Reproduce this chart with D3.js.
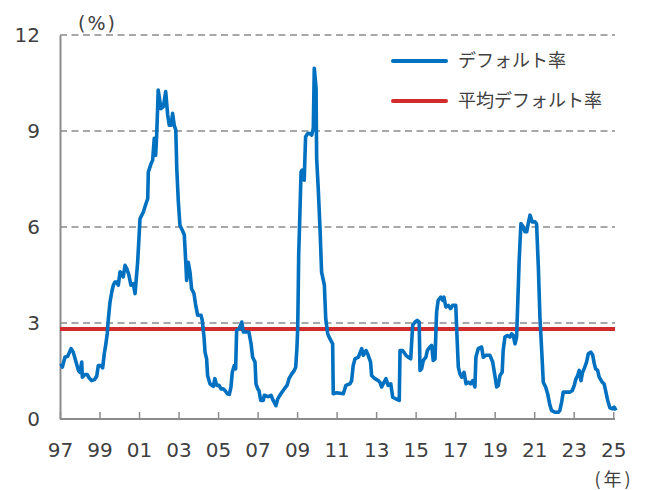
<!DOCTYPE html>
<html>
<head>
<meta charset="utf-8">
<script src="https://cdn.jsdelivr.net/npm/d3@7/dist/d3.min.js"></script>
<style>
  html, body { margin: 0; padding: 0; background: #fff; }
  svg text { font-family: "DejaVu Sans", Verdana, sans-serif; fill: #404040; }
  svg text.jp { font-family: "Noto Sans CJK JP", "Noto Sans", sans-serif; }
</style>
</head>
<body>
<svg id="chart" width="649" height="490"></svg>
<script>
// decimal year positions
const years = [
  1997.05, 1997.12, 1997.25, 1997.39, 1997.56, 1997.67, 1997.79, 1997.93, 1998.01, 1998.10,
  1998.13, 1998.27, 1998.38, 1998.48, 1998.60, 1998.74, 1998.86, 1998.94, 1999.07, 1999.16,
  1999.24, 1999.31, 1999.39, 1999.44, 1999.53, 1999.62, 1999.70, 1999.78, 1999.87, 1999.95,
  2000.04, 2000.12, 2000.20, 2000.29, 2000.38, 2000.49, 2000.59, 2000.71, 2000.80, 2000.93,
  2001.05, 2001.22, 2001.30, 2001.44, 2001.47, 2001.61, 2001.69, 2001.77, 2001.84, 2001.89,
  2001.94, 2001.97, 2002.11, 2002.23, 2002.35, 2002.45, 2002.53, 2002.62, 2002.70, 2002.78,
  2002.86, 2002.91, 2002.99, 2003.07, 2003.19, 2003.29, 2003.36, 2003.41, 2003.49, 2003.58,
  2003.66, 2003.78, 2003.87, 2003.97, 2004.14, 2004.20, 2004.29, 2004.34, 2004.42, 2004.47,
  2004.59, 2004.76, 2004.84, 2004.93, 2005.05, 2005.15, 2005.26, 2005.35, 2005.47, 2005.57,
  2005.65, 2005.72, 2005.82, 2005.89, 2005.94, 2006.07, 2006.20, 2006.28, 2006.56, 2006.67,
  2006.75, 2006.87, 2006.92, 2007.01, 2007.07, 2007.16, 2007.29, 2007.34, 2007.54, 2007.68,
  2007.79, 2007.93, 2008.02, 2008.18, 2008.35, 2008.49, 2008.59, 2008.73, 2008.86, 2008.93,
  2008.99, 2009.03, 2009.06, 2009.08, 2009.13, 2009.20, 2009.26, 2009.36, 2009.43, 2009.54,
  2009.65, 2009.74, 2009.82, 2009.87, 2009.96, 2009.99, 2010.07, 2010.16, 2010.24, 2010.38,
  2010.45, 2010.55, 2010.66, 2010.80, 2010.83, 2011.00, 2011.34, 2011.47, 2011.68, 2011.76,
  2011.84, 2011.93, 2012.10, 2012.27, 2012.35, 2012.49, 2012.60, 2012.72, 2012.77, 2012.94,
  2013.11, 2013.19, 2013.28, 2013.36, 2013.50, 2013.61, 2013.74, 2013.84, 2014.00, 2014.17,
  2014.21, 2014.34, 2014.51, 2014.63, 2014.75, 2014.85, 2014.97, 2015.08, 2015.18, 2015.22,
  2015.30, 2015.39, 2015.52, 2015.59, 2015.72, 2015.81, 2015.89, 2015.98, 2016.06, 2016.14,
  2016.27, 2016.37, 2016.43, 2016.53, 2016.65, 2016.77, 2016.87, 2017.03, 2017.08, 2017.16,
  2017.24, 2017.33, 2017.45, 2017.55, 2017.66, 2017.78, 2017.89, 2018.00, 2018.05, 2018.17,
  2018.34, 2018.42, 2018.54, 2018.76, 2018.90, 2019.01, 2019.10, 2019.18, 2019.27, 2019.38,
  2019.43, 2019.52, 2019.64, 2019.77, 2019.86, 2019.94, 2020.03, 2020.11, 2020.19, 2020.24,
  2020.33, 2020.45, 2020.53, 2020.62, 2020.70, 2020.79, 2020.90, 2021.04, 2021.12, 2021.21,
  2021.29, 2021.38, 2021.46, 2021.58, 2021.68, 2021.80, 2021.88, 2022.05, 2022.22, 2022.30,
  2022.39, 2022.47, 2022.81, 2022.93, 2023.03, 2023.10, 2023.20, 2023.28, 2023.37, 2023.45,
  2023.53, 2023.65, 2023.74, 2023.86, 2023.96, 2024.04, 2024.11, 2024.21, 2024.29, 2024.44,
  2024.54, 2024.63, 2024.72, 2024.83, 2024.97, 2025.05, 2025.14
];

// default rate (%)
const defaultRate = [
  1.73, 1.62, 1.93, 1.96, 2.20, 2.09, 1.83, 1.52, 1.46, 1.78,
  1.31, 1.39, 1.39, 1.28, 1.20, 1.23, 1.34, 1.67, 1.67, 1.60,
  2.04, 2.30, 2.66, 3.08, 3.65, 3.97, 4.18, 4.28, 4.28, 4.18,
  4.60, 4.55, 4.44, 4.80, 4.70, 4.49, 4.18, 4.23, 3.92, 4.90,
  6.26, 6.47, 6.63, 6.89, 7.72, 7.98, 8.09, 8.77, 8.24, 8.82,
  9.70, 10.28, 9.70, 9.76, 10.23, 9.50, 9.18, 9.18, 9.55, 9.18,
  9.03, 7.83, 6.78, 6.05, 5.90, 5.76, 4.96, 4.33, 4.90, 4.59,
  4.07, 3.92, 3.55, 3.24, 3.24, 3.08, 2.56, 2.09, 1.88, 1.36,
  1.10, 1.02, 1.26, 1.05, 1.05, 0.94, 0.94, 0.89, 0.79, 0.77,
  0.99, 1.46, 1.67, 1.57, 2.77, 2.82, 3.03, 2.72, 2.72, 2.35,
  1.93, 1.78, 1.10, 0.94, 0.89, 0.58, 0.58, 0.74, 0.70, 0.74,
  0.58, 0.42, 0.63, 0.79, 0.94, 1.05, 1.26, 1.41, 1.52, 1.62,
  2.20, 2.82, 4.07, 5.12, 6.16, 7.72, 7.78, 7.46, 8.82, 8.92,
  8.92, 8.87, 9.08, 10.96, 10.33, 8.14, 7.20, 5.95, 4.59, 4.18,
  3.13, 2.66, 2.51, 2.35, 0.79, 0.82, 0.79, 1.05, 1.10, 1.20,
  1.67, 1.88, 1.93, 2.20, 1.99, 2.14, 1.99, 1.78, 1.36, 1.26,
  1.20, 1.15, 1.00, 1.10, 1.26, 1.05, 1.10, 0.68, 0.63, 0.58,
  2.14, 2.14, 1.99, 1.93, 1.88, 2.93, 3.03, 3.08, 3.03, 1.52,
  1.57, 1.83, 1.93, 2.14, 2.25, 2.30, 1.83, 1.88, 3.34, 3.71,
  3.81, 3.71, 3.81, 3.50, 3.55, 3.45, 3.55, 3.55, 2.77, 1.62,
  1.41, 1.31, 1.46, 1.10, 1.15, 1.10, 1.20, 1.00, 1.93, 2.20,
  2.25, 1.93, 1.99, 1.99, 1.78, 1.36, 1.00, 1.05, 1.36, 1.46,
  2.14, 2.56, 2.61, 2.56, 2.66, 2.61, 2.35, 2.56, 4.02, 4.96,
  6.11, 6.00, 5.85, 5.85, 6.11, 6.37, 6.16, 6.16, 6.10, 4.75,
  3.19, 2.14, 1.15, 1.00, 0.79, 0.42, 0.27, 0.21, 0.21, 0.27,
  0.53, 0.84, 0.84, 0.89, 1.05, 1.23, 1.36, 1.52, 1.20, 1.46,
  1.57, 1.78, 2.04, 2.09, 2.00, 1.73, 1.57, 1.52, 1.31, 1.15,
  1.10, 0.84, 0.58, 0.35, 0.32, 0.37, 0.27
];

const averageRate = 2.81;

const yTicks = [0, 3, 6, 9, 12];
const xTicks = [1997, 1999, 2001, 2003, 2005, 2007, 2009, 2011, 2013, 2015, 2017, 2019, 2021, 2023, 2025];

const legendLabels = ["デフォルト率", "平均デフォルト率"];

const blue = "#0070c0";
const red = "#d22b2b";
const grey = "#8c8c8c";

const svg = d3.select("#chart");
const plotLeft = 60, plotRight = 615, plotTop = 35, plotBottom = 419;

const x = d3.scaleLinear().domain([1997, 2025.09]).range([plotLeft, plotRight]);
const y = d3.scaleLinear().domain([0, 12]).range([plotBottom, plotTop]);

// dashed gridlines
svg.append("g")
  .selectAll("line")
  .data(yTicks.filter((d) => d > 0))
  .join("line")
  .attr("x1", plotLeft)
  .attr("x2", plotRight)
  .attr("y1", (d) => y(d))
  .attr("y2", (d) => y(d))
  .attr("stroke", grey)
  .attr("stroke-width", 1.5)
  .attr("stroke-dasharray", "7,4.5");

// y axis
const yAxis = svg.append("g")
  .attr("transform", `translate(${plotLeft},0)`)
  .call(d3.axisLeft(y).tickValues(yTicks).tickSize(0).tickPadding(20));
yAxis.select(".domain").attr("stroke", grey).attr("stroke-width", 2);
yAxis.selectAll("text")
  .attr("font-size", 20)
  .attr("font-family", null)
  .attr("fill", "#404040");

// x axis
const xAxis = svg.append("g")
  .attr("transform", `translate(0,${plotBottom})`)
  .call(
    d3.axisBottom(x)
      .tickValues(xTicks)
      .tickSize(-7)
      .tickPadding(24)
      .tickFormat((d) => String(d % 100).padStart(2, "0"))
  );
xAxis.select(".domain").attr("stroke", grey).attr("stroke-width", 2).attr("d", `M${plotLeft},0H${plotRight}`);
xAxis.selectAll(".tick line").attr("stroke", grey).attr("stroke-width", 1.5);
xAxis.selectAll("text")
  .attr("font-size", 20)
  .attr("font-family", null)
  .attr("fill", "#404040");

// average line
svg.append("line")
  .attr("x1", plotLeft)
  .attr("x2", plotRight)
  .attr("y1", y(averageRate))
  .attr("y2", y(averageRate))
  .attr("stroke", red)
  .attr("stroke-width", 4);

// default rate line
const series = years.map((yr, i) => ({ year: yr, value: defaultRate[i] }));
svg.append("path")
  .datum(series)
  .attr("fill", "none")
  .attr("stroke", blue)
  .attr("stroke-width", 3.6)
  .attr("stroke-linejoin", "round")
  .attr("d", d3.line().x((d) => x(d.year)).y((d) => y(d.value)));

// unit labels
svg.append("text").attr("x", 78).attr("y", 30).attr("font-size", 19)
  .attr("letter-spacing", 2).text("(%)");
svg.append("text").attr("class", "jp").attr("x", 614).attr("y", 486)
  .attr("text-anchor", "middle").attr("font-size", 18)
  .attr("letter-spacing", 3).text("(年)");

// legend
const legend = svg.append("g").attr("transform", "translate(393,61)");
[blue, red].forEach((c, i) => {
  const row = legend.append("g").attr("transform", `translate(0,${i * 40})`);
  row.append("line").attr("x1", 0).attr("x2", 53)
    .attr("stroke", c).attr("stroke-width", 4).attr("stroke-linecap", "round");
  row.append("text").attr("class", "jp").attr("x", 65).attr("dy", "0.35em")
    .attr("font-size", 18).text(legendLabels[i]);
});
</script>
</body>
</html>
